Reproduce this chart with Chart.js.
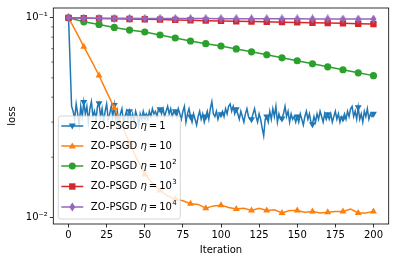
<style>
body { margin: 0; background: #fff; }
#chart_box { width: 394px; height: 262px; }
</style>

<div id="chart_box">
  <canvas id="lossChart"></canvas>
</div>

<script src="https://cdn.jsdelivr.net/npm/chart.js"></script>

<script>
// iterations with a marker (markevery=10)
const markIters = [0, 10, 20, 30, 40, 50, 60, 70, 80, 90, 100, 110, 120, 130, 140, 150, 160, 170, 180, 190, 200];
const orangeIters = [0, 5, 10, 15, 20, 25, 30, 35, 40, 45, 50, 55, 60, 65, 70, 75, 80, 85, 90, 95, 100,
  105, 110, 115, 120, 125, 130, 135, 140, 145, 150, 155, 160, 165, 170, 175, 180, 185, 190, 195, 200];
const blueIters = Array.from({ length: 201 }, (_, i) => i);

// eta = 1, one value per iteration
const lossEta1 = [0.1, 0.06, 0.036,
  0.034, 0.031, 0.037, 0.033, 0.029, 0.036, 0.032,
  0.0378, 0.033, 0.036, 0.030, 0.035, 0.038, 0.032, 0.034, 0.031, 0.036,
  0.0373, 0.032, 0.035, 0.030, 0.034, 0.037, 0.031, 0.033, 0.036, 0.032,
  0.0365, 0.031, 0.034, 0.029, 0.033, 0.035, 0.030, 0.032, 0.034, 0.031,
  0.034, 0.031, 0.033, 0.030, 0.034, 0.032, 0.029, 0.033, 0.031, 0.034,
  0.032, 0.033, 0.031, 0.034, 0.032, 0.035, 0.033, 0.034, 0.032, 0.035,
  0.0348, 0.033, 0.035, 0.032, 0.034, 0.036, 0.033, 0.035, 0.032, 0.034,
  0.034, 0.032, 0.035, 0.033, 0.031, 0.034, 0.036, 0.030, 0.033, 0.035,
  0.032, 0.030, 0.033, 0.031, 0.029, 0.032, 0.034, 0.031, 0.033, 0.030,
  0.032, 0.034, 0.031, 0.035, 0.038, 0.033, 0.032, 0.034, 0.031, 0.033,
  0.0328, 0.034, 0.032, 0.035, 0.033, 0.036, 0.037, 0.034, 0.036, 0.033,
  0.0348, 0.033, 0.031, 0.034, 0.032, 0.030, 0.033, 0.035, 0.032, 0.031,
  0.031, 0.033, 0.035, 0.032, 0.030, 0.033, 0.031, 0.028, 0.0256, 0.031,
  0.032, 0.030, 0.034, 0.031, 0.035, 0.032, 0.036, 0.030, 0.033, 0.031,
  0.0313, 0.033, 0.036, 0.032, 0.034, 0.030, 0.033, 0.031, 0.032, 0.030,
  0.032, 0.030, 0.033, 0.031, 0.029, 0.032, 0.034, 0.031, 0.033, 0.030,
  0.0293, 0.032, 0.030, 0.033, 0.031, 0.034, 0.032, 0.030, 0.033, 0.031,
  0.0328, 0.031, 0.033, 0.030, 0.032, 0.034, 0.031, 0.033, 0.030, 0.032,
  0.0313, 0.033, 0.031, 0.034, 0.032, 0.035, 0.036, 0.032, 0.034, 0.031,
  0.0356, 0.031, 0.033, 0.030, 0.034, 0.032, 0.035, 0.031, 0.033, 0.032,
  0.033];
const lossEta10 = [0.1, 0.085, 0.0717, 0.061, 0.0514, 0.0425, 0.0353, 0.029, 0.0235, 0.0195, 0.0164,
  0.0148, 0.0136, 0.0128, 0.0123, 0.0121, 0.0117, 0.0116, 0.0111, 0.0114, 0.0115,
  0.0112, 0.0110, 0.0111, 0.0108, 0.0111, 0.0108, 0.0109, 0.0105, 0.0108, 0.0108,
  0.0106, 0.0107, 0.0105, 0.0106, 0.0107, 0.0107, 0.0110, 0.0105, 0.0105, 0.0107];
const lossEta100 = [0.1, 0.0955, 0.0926, 0.0895, 0.0868, 0.0849, 0.082, 0.0792, 0.0765, 0.0742, 0.0722,
  0.0698, 0.0675, 0.0652, 0.063, 0.0609, 0.0588, 0.0568, 0.0549, 0.053, 0.0513];
const lossEta1000 = [0.1, 0.0997, 0.0993, 0.099, 0.0987, 0.0983, 0.098, 0.0976, 0.0972, 0.0968, 0.0965,
  0.0961, 0.0958, 0.0955, 0.0951, 0.0948, 0.0945, 0.0941, 0.0938, 0.0934, 0.093];
const lossEta10000 = [0.1, 0.0996, 0.0995, 0.0994, 0.0994, 0.0993, 0.0993, 0.0992, 0.0991, 0.0991, 0.099,
  0.099, 0.0989, 0.0989, 0.0988, 0.0988, 0.0987, 0.0987, 0.0986, 0.0986, 0.0985];

const xTicks = [0, 25, 50, 75, 100, 125, 150, 175, 200];
const xTickLabels = ['0', '25', '50', '75', '100', '125', '150', '175', '200'];
const yMajor = [0.01, 0.1];
const yMajorLabels = ['10\u207B\u00B2', '10\u207B\u00B9'];
const yMinor = [0.02, 0.03, 0.04, 0.05, 0.06, 0.07, 0.08, 0.09];
const legendEta = ['1', '10', '10', '10', '10'];
const legendSup = ['', '', '2', '3', '4'];

const FONT = '"DejaVu Sans", sans-serif';
const colors = ['#1f77b4', '#ff7f0e', '#2ca02c', '#d62728', '#9467bd'];

// thin diamond marker ('d')
const thinDiamond = document.createElement('canvas');
thinDiamond.width = 7; thinDiamond.height = 9;
(function () {
  const c = thinDiamond.getContext('2d');
  c.fillStyle = colors[4];
  c.beginPath();
  c.moveTo(3.5, 0); c.lineTo(6.5, 4.5); c.lineTo(3.5, 9); c.lineTo(0.5, 4.5);
  c.closePath(); c.fill();
})();

function pairs(xs, ys) {
  return xs.map((x, i) => ({ x: x, y: ys[i] }));
}
function markRadius(r) {
  return ctx => (ctx.raw && ctx.raw.x % 10 === 0) ? r : 0;
}

function series(label, xs, ys, i, style, r, extra) {
  return Object.assign({
    label: label,
    data: pairs(xs, ys),
    borderColor: colors[i],
    backgroundColor: colors[i],
    borderWidth: 1.5,
    pointStyle: style,
    pointRadius: markRadius(r),
    pointBorderWidth: 0,
    pointHoverRadius: 0,
    order: 4 - i
  }, extra || {});
}

const decor = {
  id: 'decor',
  afterDatasetsDraw(chart) {
    const { ctx, chartArea: a, scales: { y } } = chart;
    ctx.save();
    ctx.strokeStyle = '#000';
    ctx.lineWidth = 0.6;
    yMinor.forEach(v => {
      const py = y.getPixelForValue(v);
      ctx.beginPath(); ctx.moveTo(a.left, py); ctx.lineTo(a.left - 2, py); ctx.stroke();
    });
    ctx.lineWidth = 0.8;
    ctx.strokeRect(a.left, a.top, a.right - a.left, a.bottom - a.top);

    // legend, lower left inside the axes
    const bx = a.left + 5, by = 116, bw = 122, bh = 103;
    ctx.beginPath();
    ctx.roundRect(bx, by, bw, bh, 2.5);
    ctx.fillStyle = 'rgba(255,255,255,0.8)';
    ctx.fill();
    ctx.strokeStyle = 'rgba(204,204,204,0.8)';
    ctx.lineWidth = 1;
    ctx.stroke();

    const rows = [126, 146, 166, 186.5, 207];
    rows.forEach((cy, i) => {
      const c = colors[i];
      ctx.strokeStyle = c; ctx.fillStyle = c; ctx.lineWidth = 1.5;
      ctx.beginPath(); ctx.moveTo(bx + 3, cy); ctx.lineTo(bx + 25, cy); ctx.stroke();
      const mx = bx + 14;
      ctx.beginPath();
      if (i === 0) { ctx.moveTo(mx - 3.5, cy - 2.5); ctx.lineTo(mx + 3.5, cy - 2.5); ctx.lineTo(mx, cy + 3.5); }
      else if (i === 1) { ctx.moveTo(mx - 3.5, cy + 2.5); ctx.lineTo(mx + 3.5, cy + 2.5); ctx.lineTo(mx, cy - 3.5); }
      else if (i === 2) { ctx.arc(mx, cy, 3.5, 0, Math.PI * 2); }
      else if (i === 3) { ctx.rect(mx - 3.2, cy - 3.2, 6.4, 6.4); }
      else { ctx.moveTo(mx, cy - 4.5); ctx.lineTo(mx + 3, cy); ctx.lineTo(mx, cy + 4.5); ctx.lineTo(mx - 3, cy); }
      ctx.closePath(); ctx.fill();

      ctx.fillStyle = '#000';
      ctx.textBaseline = 'middle';
      let tx = bx + 32.5;
      ctx.font = '10px ' + FONT;
      ctx.fillText('ZO-PSGD ', tx, cy); tx += ctx.measureText('ZO-PSGD ').width;
      ctx.font = 'italic 10px ' + FONT;
      ctx.fillText('\u03B7', tx, cy); tx += ctx.measureText('\u03B7').width + 2;
      ctx.font = '10px ' + FONT;
      ctx.fillText('=', tx, cy); tx += ctx.measureText('=').width + 2;
      ctx.fillText(legendEta[i], tx, cy); tx += ctx.measureText(legendEta[i]).width;
      if (legendSup[i]) {
        ctx.font = '7px ' + FONT;
        ctx.fillText(legendSup[i], tx + 0.5, cy - 4);
      }
    });
    ctx.restore();
  }
};

new Chart(document.getElementById('lossChart'), {
  type: 'line',
  data: {
    datasets: [
      series('ZO-PSGD eta=1', blueIters, lossEta1, 0, 'triangle', 4, { pointRotation: 180 }),
      series('ZO-PSGD eta=10', orangeIters, lossEta10, 1, 'triangle', 4),
      series('ZO-PSGD eta=10^2', markIters, lossEta100, 2, 'circle', 3.6),
      series('ZO-PSGD eta=10^3', markIters, lossEta1000, 3, 'rect', 4.5),
      series('ZO-PSGD eta=10^4', markIters, lossEta10000, 4, thinDiamond, 4)
    ]
  },
  options: {
    responsive: true,
    maintainAspectRatio: false,
    animation: false,
    layout: { padding: { top: 6, right: 5.3, left: 0, bottom: 0 } },
    plugins: { legend: { display: false }, tooltip: { enabled: false } },
    scales: {
      x: {
        type: 'linear',
        min: -10,
        max: 210,
        afterBuildTicks: s => { s.ticks = xTicks.map(v => ({ value: v })); },
        afterFit: s => { s.height = 38; },
        ticks: { autoSkip: false, maxRotation: 0, padding: 2, color: '#000', font: { family: FONT, size: 10 },
          callback: (v, i) => xTickLabels[i] },
        grid: { drawOnChartArea: false, tickLength: 3.5, tickColor: '#000', tickWidth: 0.8 },
        border: { display: false },
        title: { display: true, text: 'Iteration', color: '#000', font: { family: FONT, size: 10 },
          padding: { top: 0, bottom: 6 } }
      },
      y: {
        type: 'logarithmic',
        min: 0.00925,
        max: 0.112,
        afterBuildTicks: s => { s.ticks = yMajor.map(v => ({ value: v })); },
        afterFit: s => { s.width = 53.3; },
        ticks: { autoSkip: false, padding: 2, color: '#000', font: { family: FONT, size: 10 },
          callback: (v, i) => yMajorLabels[i] },
        grid: { drawOnChartArea: false, tickLength: 3.5, tickColor: '#000', tickWidth: 0.8 },
        border: { display: false },
        title: { display: true, text: 'loss', color: '#000', font: { family: FONT, size: 10 },
          padding: { top: 6, bottom: 0 } }
      }
    }
  },
  plugins: [decor]
});
</script>
